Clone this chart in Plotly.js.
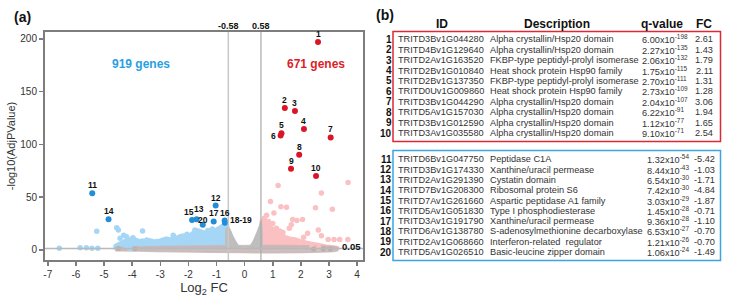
<!DOCTYPE html>
<html>
<head>
<meta charset="utf-8">
<script src="https://cdn.plot.ly/plotly-3.0.1.min.js"></script>
<style>html,body{margin:0;padding:0;background:#fff;}#chart{width:734px;height:299px;}</style>
</head>
<body>
<div id="chart"></div>
<script>
// ---------- data: labelled genes (table + highlighted points) ----------
const upNums = ['1','2','3','4','5','6','7','8','9','10'];
const upIds = ['TRITD3Bv1G044280','TRITD4Bv1G129640','TRITD2Av1G163520','TRITD2Bv1G010840','TRITD2Bv1G137350','TRITD0Uv1G009860','TRITD3Bv1G044290','TRITD5Av1G157030','TRITD3Bv1G012590','TRITD3Av1G035580'];
const upDesc = ['Alpha crystallin/Hsp20 domain','Alpha crystallin/Hsp20 domain','FKBP-type peptidyl-prolyl isomerase','Heat shock protein Hsp90 family','FKBP-type peptidyl-prolyl isomerase','Heat shock protein Hsp90 family','Alpha crystallin/Hsp20 domain','Alpha crystallin/Hsp20 domain','Alpha crystallin/Hsp20 domain','Alpha crystallin/Hsp20 domain'];
const upQm = [6.00,2.27,2.06,1.75,2.70,2.73,2.04,6.22,1.12,9.10];
const upQe = [-198,-135,-132,-115,-111,-109,-107,-91,-77,-71];
const upFC = [2.61,1.43,1.79,2.11,1.31,1.28,3.06,1.94,1.65,2.54];
const upLabels = ['1','2','3','4','5','6','7','8','9','10'];

const downNums = ['11','12','13','14','15','16','17','18','19','20'];
const downIds = ['TRITD6Bv1G047750','TRITD3Bv1G174330','TRITD2Av1G291390','TRITD7Bv1G208300','TRITD7Av1G261660','TRITD5Av1G051830','TRITD3Av1G191790','TRITD6Av1G138780','TRITD2Av1G068660','TRITD5Av1G026510'];
const downDesc = ['Peptidase C1A','Xanthine/uracil permease','Cystatin domain','Ribosomal protein S6','Aspartic peptidase A1 family','Type I phosphodiesterase','Xanthine/uracil permease','S-adenosylmethionine decarboxylase','Interferon-related  regulator','Basic-leucine zipper domain'];
const downQm = [1.32,8.44,6.54,7.42,3.03,1.45,9.36,6.53,1.21,1.06];
const downQe = [-54,-43,-30,-30,-29,-28,-28,-27,-26,-24];
const downFC = [-5.42,-1.03,-1.71,-4.84,-1.87,-0.71,-1.10,-0.70,-0.70,-1.49];
const downLabels = ['11','12','13','14','15','16','17','18-19','','20'];

// ---------- data: background genes ----------
const pinkPtsX = [1.19,3.68,2.73,0.92,1.29,1.49,2.52,3.12,1.04,0.78,1.71,2.06,1.86,1.13,1.59,1.66,2.24,2.62,1.36,1.72,2.97,3.18,3.38,3.67,2.73,1.36,1.98,2.40,2.63,0.70,0.85,1.00,2.10,1.25];
const pinkPtsY = [61,64,54,46,41,40.5,40,38.6,35,33,29,29,28,20.5,20.5,24,15.8,19,13,9.5,10,10,10,10,13.5,16.5,7,3.5,2.5,30,27,25,12,18];
const bluePtsX = [-6.59,-5.85,-5.63,-5.43,-5.22,-5.26,-4.55,-4.49,-4.43,-4.30,-4.20,-3.97,-3.63,-3.64,-3.48,-4.22,-3.13,-2.54,-2.60,-1.95,-1.77,-1.60,-1.31,-0.96,-0.80,-0.65,-2.30,-4.08,-1.15,-2.05];
const bluePtsY = [1.6,2,2,1.6,1.6,17.7,21,19,11,14,12.5,11.5,18,8.6,9.5,3.6,8,14,9.5,13,19,17.5,18.5,18,22,24,12,1.5,20,15];
const grayPtsX = [3.05,2.45,-4.49,-3.9,2.8];
const grayPtsY = [0.8,1.0,1.5,1.2,0.9];
// dense clouds (outline of overlapping points)
const blueCloudX = [-4.6,-4.6,-4.45,-4.3,-4.1,-4.0,-3.8,-3.6,-3.4,-3.2,-3.0,-2.8,-2.6,-2.4,-2.2,-2.0,-1.85,-1.7,-1.5,-1.3,-1.1,-0.9,-0.75,-0.62,-0.62];
const blueCloudY = [0.5,4,6,8,10,11,9,8,9.5,8,9,11,10,12,14,13,16,19,17,17,18,21,23,25,0.5];
const pinkCloudX = [0.6,0.6,0.7,0.8,0.9,1.0,1.1,1.25,1.4,1.6,1.8,2.0,2.2,2.4,2.6,2.8,3.0,3.3,3.3];
const pinkCloudY = [0.5,27,28,24,22,20,17,15,13,11,10,8.5,7,6,5,4,3,2,0.5];
const grayCloudX = [-0.66,-0.66,-0.6,-0.52,-0.42,-0.32,-0.22,-0.12,0,0.12,0.22,0.32,0.42,0.52,0.6,0.62];
const grayCloudY = [0.5,19,22,19,13,8,4,2,1.2,2,4.5,9,15,22,27,0.5];
const baseBandX = [-4.6,3.3,3.3,-4.6];
const baseBandY = [-0.6,-0.6,2.2,2.2];

const xTicks = [-7,-6,-5,-4,-3,-2,-1,0,1,2,3,4];
const yTicks = [0,50,100,150,200];
const fcCut = [-0.58, 0.58];
const qCut = 0.05;

// ---------- derived ----------
const upY = upQm.map((m,i)=> -(Math.log10(m)+upQe[i]));
const downY = downQm.map((m,i)=> -(Math.log10(m)+downQe[i]));

// ---------- layout geometry (pixels) ----------
const L=45, R=363, T=32, B=260;
const px2x = p => (p-L)/(R-L);
const py2y = p => (B-p)/(B-T);
const FONT = 'Liberation Sans, Arial, sans-serif';

const RED='rgb(218,22,38)', BLUE='rgb(34,142,218)';
const PINK='rgb(250,192,194)', LBLUE='rgb(166,214,245)', GRAY='rgb(190,190,190)';

// label placement styles (pixel offsets from the point)
const labelStyle = {
  '6':{xanchor:'right',xshift:-4,yshift:-1},
  '18-19':{xanchor:'left',xshift:4,yshift:2},
  '13':{xshift:2,yshift:10},
  '15':{xshift:-3,yshift:8},
  '20':{xshift:0,yshift:5}
};

function cloud(x,y,color,w){
  return {x:x,y:y,type:'scatter',mode:'lines',fill:'toself',fillcolor:color,
    line:{color:color,width:w,shape:'spline',smoothing:0.5},hoverinfo:'skip',showlegend:false};
}
function pts(x,y,color,size){
  return {x:x,y:y,type:'scatter',mode:'markers',marker:{color:color,size:size,line:{width:0}},hoverinfo:'skip',showlegend:false};
}

const traces = [
  cloud(blueCloudX,blueCloudY,LBLUE,4),
  cloud(pinkCloudX,pinkCloudY,PINK,4),
  cloud(baseBandX,baseBandY,'rgba(200,182,182,0.85)',2),
  cloud(grayCloudX,grayCloudY,GRAY,1.5),
  pts(bluePtsX,bluePtsY,LBLUE,5.5),
  pts(pinkPtsX,pinkPtsY,PINK,5.5),
  pts(grayPtsX,grayPtsY,'rgb(185,175,175)',5),
  {x:upFC,y:upY,type:'scatter',mode:'markers',marker:{color:RED,size:6},cliponaxis:false,showlegend:false,hoverinfo:'skip'},
  {x:downFC,y:downY,type:'scatter',mode:'markers',marker:{color:BLUE,size:6},cliponaxis:false,showlegend:false,hoverinfo:'skip'}
];

const annotations = [];
// point labels, placed through the data axes
function pointLabels(labels,xs,ys){
  labels.forEach((t,i)=>{
    if(!t) return;
    const s = labelStyle[t] || {};
    annotations.push({xref:'x',yref:'y',x:xs[i],y:ys[i],text:'<b>'+t+'</b>',showarrow:false,
      xanchor:s.xanchor||'center',yanchor:'middle',xshift:s.xshift||0,yshift:(s.yshift!==undefined?s.yshift:8),
      borderpad:0,font:{family:FONT,size:8.5,color:'#111'}});
  });
}
pointLabels(upLabels,upFC,upY);
pointLabels(downLabels,downFC,downY);

function ann(text,px,py,xa,font){
  annotations.push({xref:'paper',yref:'paper',x:px2x(px),y:py2y(py),text:text,showarrow:false,
    xanchor:xa,yanchor:'middle',borderpad:0,font:Object.assign({family:FONT,size:10,color:'#222'},font)});
}
ann('<b>(a)</b>',13,17,'left',{size:14,color:'#111'});
ann('<b>(b)</b>',375,15,'left',{size:14,color:'#111'});
ann('<b>919 genes</b>',140.5,64,'center',{size:12,color:'rgb(40,160,225)'});
ann('<b>671 genes</b>',315.5,64,'center',{size:12,color:'rgb(220,30,40)'});
ann('<b>'+fcCut[0].toFixed(2)+'</b>',228.7,26,'center',{size:9,color:'#111'});
ann('<b>'+fcCut[1].toFixed(2)+'</b>',261,26,'center',{size:9,color:'#111'});
ann('<b>'+qCut.toFixed(2)+'</b>',362,246.5,'right',{size:9.5,color:'#111'});

// table headers
ann('<b>ID</b>',442,24.5,'center',{size:12,color:'#111'});
ann('<b>Description</b>',557,24.5,'center',{size:12,color:'#111'});
ann('<b>q-value</b>',662,24.5,'center',{size:12,color:'#111'});
ann('<b>FC</b>',704,24.5,'center',{size:12,color:'#111'});

function fmtQ(m,e){ return m.toFixed(2)+'x10<sup>'+e+'</sup>'; }
function tableRows(nums,ids,desc,qm,qe,fc,y0,dy,qx,fcx){
  for(let i=0;i<nums.length;i++){
    const y=y0+i*dy;
    ann('<b>'+nums[i]+'</b>',393,y,'right',{size:10,color:'#111'});
    ann(ids[i],397,y,'left',{size:9.2,color:'#333'});
    ann(desc[i],489,y,'left',{size:9.2,color:'#333'});
    ann(fmtQ(qm[i],qe[i]),qx,y,'left',{size:9.2,color:'#333'});
    ann(fc[i].toFixed(2),fcx,y,'right',{size:9.2,color:'#333'});
  }
}
tableRows(upNums,upIds,upDesc,upQm,upQe,upFC,39.3,10.42,641,714);
tableRows(downNums,downIds,downDesc,downQm,downQe,downFC,159.3,10.3,646,716);

const shapes = [
  {type:'line',xref:'x',yref:'paper',x0:fcCut[0],x1:fcCut[0],y0:0,y1:1,line:{color:'rgb(200,200,200)',width:1.5}},
  {type:'line',xref:'x',yref:'paper',x0:fcCut[1],x1:fcCut[1],y0:0,y1:1,line:{color:'rgb(170,170,170)',width:1.2}},
  {type:'line',xref:'paper',yref:'y',x0:0,x1:1,y0:-Math.log10(qCut),y1:-Math.log10(qCut),line:{color:'rgb(185,185,185)',width:1.5}},
  {type:'rect',xref:'paper',yref:'paper',x0:px2x(393),x1:px2x(720.5),y0:py2y(31.5),y1:py2y(141.5),line:{color:'rgb(222,40,52)',width:1.5}},
  {type:'rect',xref:'paper',yref:'paper',x0:px2x(393),x1:px2x(720.5),y0:py2y(150.5),y1:py2y(260.5),line:{color:'rgb(60,165,222)',width:1.5}}
];

const axisCommon = {showgrid:false,zeroline:false,showline:true,mirror:true,linecolor:'rgb(125,125,125)',linewidth:2,
  ticks:'outside',ticklen:4,tickwidth:1.5,tickcolor:'rgb(125,125,125)',tickfont:{family:FONT,size:10,color:'#333'}};

const layout = {
  width:734,height:299,margin:{l:L,r:734-R,t:T,b:299-B,pad:0},
  paper_bgcolor:'#fff',plot_bgcolor:'#fff',showlegend:false,
  font:{family:FONT},
  xaxis:Object.assign({},axisCommon,{range:[-7.1,4.21],tickvals:xTicks,ticktext:xTicks.map(String),
    title:{text:'Log<sub>2</sub> FC',font:{family:FONT,size:13,color:'#333'},standoff:4}}),
  yaxis:Object.assign({},axisCommon,{range:[-9.5,206.6],tickvals:yTicks,ticktext:yTicks.map(String),
    title:{text:'-log10(AdjPValue)',font:{family:FONT,size:11,color:'#333'},standoff:2}}),
  annotations:annotations,shapes:shapes
};
Plotly.newPlot('chart',traces,layout,{staticPlot:true,displayModeBar:false});
</script>
</body>
</html>
